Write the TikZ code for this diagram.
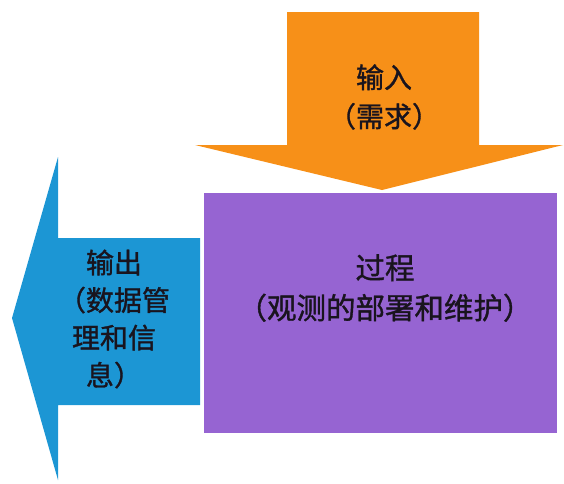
\documentclass[tikz,border=0pt]{standalone}
\usepackage{fontspec}
\newfontfamily\cjk[BoldFont={Noto Sans CJK SC},BoldFeatures={FakeBold=1.2}]{Noto Sans CJK SC}
\definecolor{inorange}{RGB}{247,144,24}
\definecolor{procpurple}{RGB}{150,100,210}
\definecolor{outblue}{RGB}{28,150,212}
\definecolor{txt}{RGB}{25,20,30}
\begin{document}
\begin{tikzpicture}[x=1pt,y=-1pt,
  lbl/.style={font=\cjk\bfseries\fontsize{28}{39}\selectfont, align=center, text=txt, inner sep=0pt}]
\useasboundingbox (0,0) rectangle (564,483);
% process box
\fill[procpurple] (204,193) rectangle (557,433);
% output arrow (left)
\fill[outblue] (200,238) -- (58,238) -- (58,157) -- (12,318) -- (58,480) -- (58,405) -- (200,405) -- cycle;
% input arrow (down)
\fill[inorange] (287,12) -- (479,12) -- (479,145) -- (563,145) -- (382,190) -- (195,145) -- (287,145) -- cycle;
\node[lbl] (in) at (384,97) {输入\\（需求）};
\node[lbl, font=\cjk\bfseries\fontsize{29.5}{40}\selectfont] (proc) at (385,288) {过程\\（观测的部署和维护）};
\node[lbl, font=\cjk\bfseries\fontsize{28}{37.5}\selectfont] (out) at (114,319) {输出\\（数据管\\理和信\\息）};
\end{tikzpicture}
\end{document}
